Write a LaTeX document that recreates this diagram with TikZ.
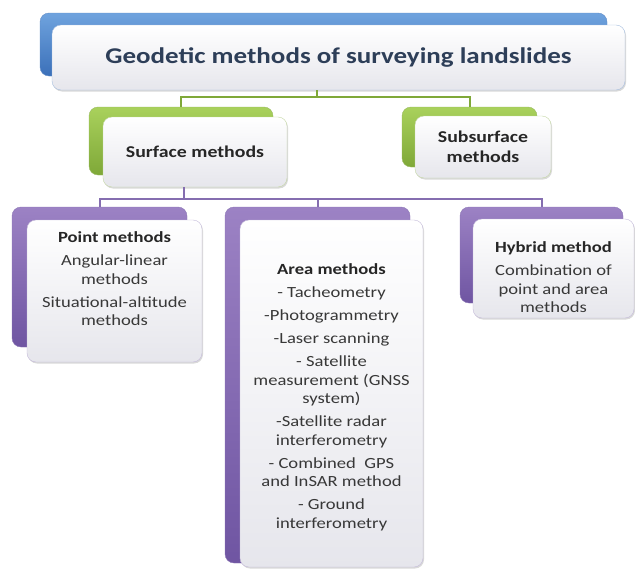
\documentclass[tikz,border=0pt]{standalone}
\usepackage{fontspec}
\setmainfont[FakeStretch=1.2]{Carlito}
\usetikzlibrary{shadows}

\definecolor{blueTop}{HTML}{6FA3DE}
\definecolor{blueBot}{HTML}{3B70B9}
\definecolor{greenTop}{HTML}{A9D15C}
\definecolor{greenBot}{HTML}{7FA838}
\definecolor{purpleTop}{HTML}{9C82C4}
\definecolor{purpleBot}{HTML}{6F55A2}
\definecolor{cardBot}{HTML}{E6E6EC}
\definecolor{titleText}{HTML}{2D3E58}
\definecolor{bodyText}{HTML}{383838}

\tikzstyle{back} = [rectangle, rounded corners=9pt, inner sep=0pt]
\tikzstyle{bluebox} = [back, top color=blueTop, bottom color=blueBot, draw=blueBot!80]
\tikzstyle{greenbox} = [back, top color=greenTop, bottom color=greenBot, draw=greenBot!80]
\tikzstyle{purplebox} = [back, top color=purpleTop, bottom color=purpleBot, draw=purpleBot!80]
\tikzstyle{card} = [rectangle, rounded corners=9pt, inner sep=4pt, align=center,
  top color=white, bottom color=cardBot, text=bodyText,
  drop shadow={opacity=0.3, shadow xshift=1pt, shadow yshift=-1.5pt}]
\tikzstyle{lbl} = [align=center, text=bodyText, inner sep=0pt,
  font=\fontsize{15.5}{18.5}\selectfont]
\tikzstyle{greenlink} = [draw=greenBot, line width=2pt]
\tikzstyle{purplelink} = [draw=purpleBot!85, line width=2pt]

\newcommand{\head}[1]{\textcolor{black!85}{\textbf{#1}}\\[4.5pt]}

\begin{document}
\begin{tikzpicture}[x=1pt, y=-1pt]
  \useasboundingbox (0,0) rectangle (635,570);

  % top level
  \node [bluebox, minimum width=567pt, minimum height=63pt] (title-bk) at (323.5,44.5) {};
  \node [card, draw=blueBot!45, minimum width=573pt, minimum height=65pt,
    text=titleText, font=\fontsize{22.5}{26}\selectfont\bfseries] (title) at (338.5,57.5)
    {Geodetic methods of surveying landslides};

  % second level
  \node [greenbox, minimum width=184pt, minimum height=68pt] (surface-bk) at (181,141) {};
  \node [card, draw=greenBot!45, minimum width=184pt, minimum height=70pt, text=black!85,
    font=\fontsize{16.5}{20}\selectfont\bfseries] (surface) at (195,152) {Surface methods};
  \node [greenbox, minimum width=135pt, minimum height=60pt] (subsurface-bk) at (469.5,137) {};
  \node [card, draw=greenBot!45, minimum width=136pt, minimum height=62pt, text=black!85,
    font=\fontsize{16.5}{20}\selectfont\bfseries] (subsurface) at (483,147) {Subsurface\\methods};

  % third level
  \node [purplebox, minimum width=175pt, minimum height=140pt] (point-bk) at (99.5,277) {};
  \node [card, draw=purpleBot!40, minimum width=175pt, minimum height=142pt] (point) at (114.5,291) {};
  \node [lbl] (point-txt) at ([yshift=12pt]point.center)
    {\head{Point methods}
     Angular-linear\\methods\\[4.5pt]
     Situational-altitude\\methods};

  \node [purplebox, minimum width=185pt, minimum height=356pt] (area-bk) at (317.5,385) {};
  \node [card, draw=purpleBot!40, minimum width=183pt, minimum height=347pt] (area) at (331.5,393.5) {};
  \node [lbl] (area-txt) at ([yshift=-4pt]area.center)
    {\head{Area methods}
     - Tacheometry\\[4.5pt]
     -Photogrammetry\\[4.5pt]
     -Laser scanning\\[4.5pt]
     - Satellite\\measurement (GNSS\\system)\\[4.5pt]
     -Satellite radar\\interferometry\\[4.5pt]
     - Combined~~GPS\\and InSAR method\\[4.5pt]
     - Ground\\interferometry};

  \node [purplebox, minimum width=163pt, minimum height=96pt] (hybrid-bk) at (541.5,255) {};
  \node [card, draw=purpleBot!40, minimum width=161pt, minimum height=99pt] (hybrid) at (553.5,268.5) {};
  \node [lbl] (hybrid-txt) at ([yshift=-9pt]hybrid.center)
    {\head{Hybrid~method}
     Combination of\\point and area\\methods};

  % connectors
  \coordinate (gj) at (317,97);
  \coordinate (pj) at (184,199);
  \draw [greenlink] (title.south -| gj) -- (gj);
  \draw [greenlink] (surface-bk.north) -- ++(0,-10) -| (subsurface-bk.north);
  \draw [purplelink] (surface.south -| pj) -- (pj);
  \draw [purplelink] (point-bk.north) -- ++(0,-8) -| (hybrid-bk.north);
  \draw [purplelink] (area-bk.north) -- (area-bk.north |- pj);
\end{tikzpicture}
\end{document}
